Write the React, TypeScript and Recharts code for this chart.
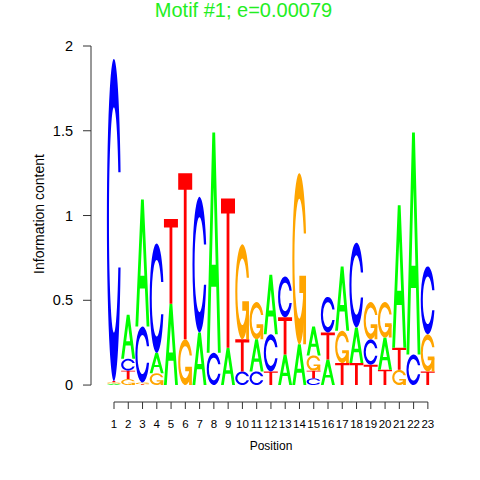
import { BarChart, Bar, XAxis, YAxis, ReferenceLine } from 'recharts'

// information content (bits) per letter, positions 1..23
const POSITIONS = [1, 2, 3, 4, 5, 6, 7, 8, 9, 10, 11, 12, 13, 14, 15, 16, 17, 18, 19, 20, 21, 22, 23]
const A_BITS = [0.008, 0.26, 0.75, 0.12, 0.48, 0, 0.31, 1.3, 0.22, 0, 0.19, 0.35, 0.18, 0.24, 0.17, 0.15, 0.38, 0.21, 0, 0.19, 0.84, 1.31, 0]
const C_BITS = [1.9, 0.07, 0.33, 0.645, 0, 0, 0.8, 0.19, 0, 0.08, 0.08, 0.22, 0.24, 0, 0.04, 0.21, 0, 0.5, 0.15, 0, 0, 0.18, 0.4]
const G_BITS = [0.008, 0.035, 0.01, 0.07, 0, 0.27, 0, 0, 0, 0.56, 0.22, 0, 0, 1.01, 0.09, 0, 0.19, 0, 0.22, 0.21, 0.09, 0, 0.22]
const T_BITS = [0.008, 0.05, 0.005, 0, 0.5, 0.98, 0, 0, 0.88, 0.19, 0, 0.08, 0.22, 0, 0.045, 0.16, 0.13, 0.13, 0.12, 0.09, 0.13, 0, 0.08]
const Y_TICKS = [0, 0.5, 1, 1.5, 2]

const TITLE = 'Motif #1; e=0.00079'
const FONT = '"Liberation Sans", Arial, Helvetica, sans-serif'
const AXIS = '#333'

const LETTERS = ['A', 'C', 'G', 'T']
const BITS: Record<string, number[]> = { A: A_BITS, C: C_BITS, G: G_BITS, T: T_BITS }
const COLORS: Record<string, string> = { A: '#00ff00', C: '#0000ff', G: '#ffa500', T: '#ff0000' }

// x domain starts a bit left of position 1 so the y axis sits apart from the letters
const X_MIN = -0.613
const X_MAX = 23.5
const Y_MIN = -0.1

// smallest letter at the bottom of each stack
const rows = POSITIONS.map((pos, i) => {
  const stack = LETTERS.map(l => ({ l, h: BITS[l][i] })).sort((a, b) => a.h - b.h)
  const row: Record<string, number | string> = { pos }
  stack.forEach((s, k) => {
    row[`h${k}`] = s.h
    row[`l${k}`] = s.l
  })
  return row
})

// letter outlines in a unit box (y down), after the seqLogo polygons
const C_PATH = 'M0.978 0.648 A0.5 0.5 0 1 1 0.978 0.352 L0.817 0.352 A0.35 0.35 0 1 0 0.817 0.648 Z'

function LetterPaths({ letter }: { letter: string }) {
  const fill = COLORS[letter]
  if (letter === 'A') {
    return (
      <path
        fill={fill}
        fillRule="evenodd"
        d="M0 1 L0.4 0 L0.6 0 L1 1 L0.8 1 L0.68 0.7 L0.32 0.7 L0.2 1 Z M0.36 0.6 L0.5 0.25 L0.64 0.6 Z"
      />
    )
  }
  if (letter === 'C') return <path fill={fill} d={C_PATH} />
  if (letter === 'G') {
    return (
      <>
        <path fill={fill} d={C_PATH} />
        <path fill={fill} d="M0.978 0.6 L0.5 0.6 L0.5 0.7 L0.778 0.7 L0.778 1 L0.978 1 Z" />
      </>
    )
  }
  return <path fill={fill} d="M0 0 H1 V0.1 H0.6 V1 H0.4 V0.1 H0 Z" />
}

function Glyph(props: any) {
  const { x, y, width, height, letter } = props
  if (!letter || !width || !height) return null
  const h = Math.abs(height)
  if (h < 0.2) return null
  const top = height < 0 ? y + height : y
  return (
    <g transform={`translate(${x} ${top}) scale(${width} ${h})`}>
      <LetterPaths letter={letter} />
    </g>
  )
}

export default function App() {
  return (
    <div style={{ position: 'absolute', left: 0, top: 0, width: 480, height: 480, background: '#fff' }}>
      <BarChart
        width={480}
        height={480}
        data={rows}
        margin={{ top: 46, right: 45, bottom: 0, left: 0 }}
        barCategoryGap={0}
        barGap={0}
      >
        <XAxis
          type="number"
          dataKey="pos"
          domain={[X_MIN, X_MAX]}
          allowDataOverflow
          ticks={POSITIONS}
          interval={0}
          height={78}
          axisLine={false}
          tickLine={{ stroke: AXIS }}
          tickSize={7}
          tickMargin={11}
          tick={{ fontSize: 11.5, fill: '#000', fontFamily: FONT }}
        />
        <YAxis
          type="number"
          domain={[Y_MIN, 2]}
          allowDataOverflow
          ticks={Y_TICKS}
          interval={0}
          width={91}
          axisLine={false}
          tickLine={{ stroke: AXIS }}
          tickSize={8}
          tickMargin={10}
          tick={{ fontSize: 14.5, fill: '#000', fontFamily: FONT }}
        />
        <ReferenceLine
          segment={[{ x: X_MIN, y: 0 }, { x: X_MIN, y: 2 }]}
          stroke={AXIS}
          ifOverflow="visible"
        />
        <ReferenceLine
          segment={[{ x: POSITIONS[0], y: Y_MIN }, { x: POSITIONS[POSITIONS.length - 1], y: Y_MIN }]}
          stroke={AXIS}
          ifOverflow="visible"
        />
        {[0, 1, 2, 3].map(k => (
          <Bar
            key={k}
            dataKey={`h${k}`}
            stackId="logo"
            isAnimationActive={false}
            shape={(p: any) => <Glyph {...p} letter={p.payload[`l${k}`]} />}
          />
        ))}
      </BarChart>
      <svg
        width={480}
        height={480}
        style={{ position: 'absolute', left: 0, top: 0, pointerEvents: 'none' }}
        fontFamily={FONT}
      >
        <text x={243.5} y={17} textAnchor="middle" fontSize={20} fill="#22ee22">
          {TITLE}
        </text>
        <text x={43.5} y={214} textAnchor="middle" fontSize={14} transform="rotate(-90 43.5 214)">
          Information content
        </text>
        <text x={271} y={450} textAnchor="middle" fontSize={12}>
          Position
        </text>
      </svg>
    </div>
  )
}
